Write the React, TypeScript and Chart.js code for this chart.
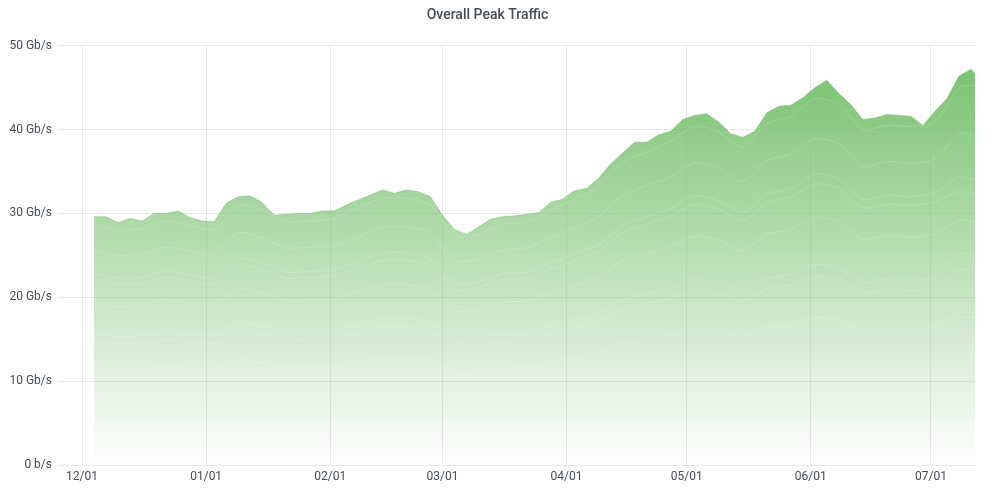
import React, { useEffect, useRef } from "react";
import { Chart, registerables } from "chart.js";

Chart.register(...registerables);

// Days counted from 12/01
const days = [
  3, 6, 9, 12, 15, 18, 21, 24, 27, 30, 33, 36, 39, 42, 45, 48, 51, 54, 57, 60,
  63, 66, 69, 72, 75, 78, 81, 84, 87, 90, 93, 96, 99, 102, 105, 108, 111, 114,
  117, 120, 123, 126, 129, 132, 135, 138, 141, 144, 147, 150, 153, 156, 159,
  162, 165, 168, 171, 174, 177, 180, 183, 186, 189, 192, 195, 198, 201, 204,
  207, 210, 213, 216, 219, 222, 223,
];

// Total (top of stack), Gb/s
const totalTraffic = [
  29.6, 29.6, 28.9, 29.4, 29.1, 30.0, 30.0, 30.3, 29.5, 29.1, 29.0, 31.2, 32.0,
  32.1, 31.3, 29.8, 29.9, 30.0, 30.0, 30.3, 30.3, 31.0, 31.6, 32.2, 32.8, 32.4,
  32.8, 32.6, 32.0, 29.8, 28.1, 27.5, 28.4, 29.3, 29.6, 29.7, 29.9, 30.1, 31.3,
  31.7, 32.7, 33.0, 34.2, 35.9, 37.2, 38.5, 38.5, 39.4, 39.8, 41.2, 41.7, 41.9,
  40.9, 39.5, 39.1, 39.8, 42.0, 42.8, 42.9, 43.8, 45.0, 45.9, 44.3, 43.0, 41.2,
  41.4, 41.8, 41.7, 41.6, 40.5, 42.2, 43.7, 46.4, 47.2, 46.7,
];

// Sampling of the inner stack boundaries
const layerDays = [
  3, 9, 15, 21, 27, 33, 39, 45, 51, 57, 63, 69, 75, 81, 87, 93, 99, 105, 111,
  117, 123, 129, 135, 141, 147, 153, 159, 165, 171, 177, 183, 189, 195, 201,
  207, 213, 219, 223,
];

const layerA = [
  28.7, 28.0, 28.2, 29.1, 28.6, 28.1, 31.0, 30.4, 29.0, 29.1, 29.4, 30.7, 31.8,
  31.8, 31.0, 27.3, 27.5, 28.7, 29.0, 30.4, 31.7, 33.2, 36.1, 37.3, 38.6, 40.4,
  39.7, 37.9, 40.7, 41.6, 43.7, 43.0, 40.0, 40.5, 40.4, 40.9, 45.0, 45.3,
];
const layerB = [
  25.6, 25.0, 25.2, 26.0, 25.5, 25.1, 27.7, 27.1, 25.9, 26.0, 26.2, 27.3, 28.4,
  28.4, 27.7, 24.3, 24.6, 25.6, 25.9, 27.1, 28.3, 29.6, 32.2, 33.3, 34.4, 36.1,
  35.4, 33.8, 36.3, 37.1, 38.9, 38.3, 35.6, 36.2, 36.0, 36.5, 39.5, 39.3,
];
const layerC = [
  22.8, 22.3, 22.4, 23.1, 22.7, 22.3, 24.6, 24.1, 23.0, 23.1, 23.3, 24.3, 25.3,
  25.3, 24.6, 21.6, 21.9, 22.8, 23.0, 24.1, 25.2, 26.3, 28.6, 29.6, 30.6, 32.1,
  31.5, 30.1, 32.3, 33.0, 34.7, 34.1, 31.7, 32.2, 32.0, 32.5, 34.3, 34.0,
];
const layerD = [
  22.1, 21.5, 21.7, 22.4, 22.0, 21.6, 23.8, 23.3, 22.3, 22.4, 22.6, 23.5, 24.4,
  24.4, 23.8, 20.9, 21.2, 22.1, 22.3, 23.3, 24.4, 25.5, 27.7, 28.7, 29.7, 31.1,
  30.5, 29.1, 31.3, 32.0, 33.5, 33.0, 30.7, 31.1, 31.0, 31.4, 32.6, 32.2,
];
const layerE = [
  19.4, 18.9, 19.1, 19.7, 19.3, 19.0, 21.0, 20.5, 19.6, 19.7, 19.8, 20.7, 21.5,
  21.5, 21.0, 18.4, 18.6, 19.4, 19.6, 20.5, 21.4, 22.4, 24.4, 25.2, 26.1, 27.3,
  26.8, 25.6, 27.5, 28.1, 29.5, 29.0, 27.0, 27.4, 27.2, 27.6, 29.2, 29.0,
];
const layerF = [
  15.7, 15.3, 15.4, 15.9, 15.6, 15.4, 17.0, 16.6, 15.8, 15.9, 16.1, 16.7, 17.4,
  17.4, 17.0, 14.9, 15.1, 15.7, 15.8, 16.6, 17.3, 18.1, 19.7, 20.4, 21.1, 22.1,
  21.7, 20.7, 22.3, 22.7, 23.9, 23.5, 21.8, 22.2, 22.0, 22.4, 25.1, 25.2,
];
const layerG = [
  14.8, 14.5, 14.6, 15.0, 14.8, 14.5, 16.0, 15.7, 15.0, 15.0, 15.2, 15.8, 16.4,
  16.4, 16.0, 14.1, 14.2, 14.8, 15.0, 15.7, 16.4, 17.1, 18.6, 19.3, 19.9, 20.9,
  20.5, 19.6, 21.0, 21.5, 22.5, 22.2, 20.6, 20.9, 20.8, 21.1, 23.2, 23.4,
];
const layerH = [
  11.5, 11.3, 11.3, 11.7, 11.5, 11.3, 12.5, 12.2, 11.7, 11.7, 11.8, 12.3, 12.8,
  12.8, 12.5, 11.0, 11.1, 11.5, 11.7, 12.2, 12.8, 13.3, 14.5, 15.0, 15.5, 16.3,
  16.0, 15.2, 16.4, 16.7, 17.6, 17.3, 16.1, 16.3, 16.2, 16.5, 18.1, 18.2,
];

const layers = [layerA, layerB, layerC, layerD, layerE, layerF, layerG, layerH];

const xTickDays = [0, 31, 62, 90, 121, 151, 182, 212];
const xTickLabels = ["12/01", "01/01", "02/01", "03/01", "04/01", "05/01", "06/01", "07/01"];
const yTickValues = [0, 10, 20, 30, 40, 50];
const yTickLabels = ["0 b/s", "10 Gb/s", "20 Gb/s", "30 Gb/s", "40 Gb/s", "50 Gb/s"];

const FONT = "Roboto";
const TEXT = "#464c54";
const GRID = "rgba(0,0,0,0.09)";

export default function App() {
  const ref = useRef<HTMLCanvasElement | null>(null);

  useEffect(() => {
    if (!ref.current) return;
    const lineSets = layers.map((arr) => ({
      data: arr.map((v, i) => ({ x: layerDays[i], y: v })),
      borderColor: "rgba(255,255,255,0.17)",
      borderWidth: 1,
      pointRadius: 0,
      fill: false,
      tension: 0.25,
      order: 1,
    }));
    const chart = new Chart(ref.current, {
      type: "line",
      data: {
        datasets: [
          ...lineSets,
          {
            data: totalTraffic.map((v, i) => ({ x: days[i], y: v })),
            borderColor: "rgba(115,191,105,0.5)",
            borderWidth: 1,
            pointRadius: 0,
            fill: "origin",
            tension: 0,
            order: 2,
            backgroundColor: (ctx: any) => {
              const area = ctx.chart.chartArea;
              if (!area) return "rgba(115,191,105,0.5)";
              const g = ctx.chart.ctx.createLinearGradient(0, area.top, 0, area.bottom);
              g.addColorStop(0, "rgba(115,191,105,1)");
              g.addColorStop(1, "rgba(115,191,105,0)");
              return g;
            },
          },
        ],
      },
      options: {
        responsive: false,
        animation: false,
        layout: { padding: { left: 0, right: 25, top: 0, bottom: 0 } },
        plugins: {
          legend: { display: false },
          tooltip: { enabled: false },
          title: {
            display: true,
            text: "Overall Peak Traffic",
            color: TEXT,
            font: { family: FONT, size: 14, weight: 500 as any },
            padding: { top: 7, bottom: 22 },
          },
        },
        scales: {
          x: {
            type: "linear",
            min: -4,
            max: 223,
            afterBuildTicks: (scale: any) => {
              scale.ticks = xTickDays.map((v) => ({ value: v }));
            },
            afterFit: (scale: any) => {
              scale.height = 35;
            },
            ticks: {
              color: TEXT,
              font: { family: FONT, size: 12 },
              padding: 5,
              maxRotation: 0,
              autoSkip: false,
              callback: (v: any) => {
                const i = xTickDays.indexOf(Number(v));
                return i >= 0 ? xTickLabels[i] : "";
              },
            },
            grid: { color: GRID, drawTicks: false, tickLength: 0 },
            border: { display: false },
          },
          y: {
            min: 0,
            max: 50,
            afterBuildTicks: (scale: any) => {
              scale.ticks = yTickValues.map((v) => ({ value: v }));
            },
            afterFit: (scale: any) => {
              scale.width = 66;
            },
            ticks: {
              color: TEXT,
              font: { family: FONT, size: 12 },
              padding: 6,
              callback: (v: any) => {
                const i = yTickValues.indexOf(Number(v));
                return i >= 0 ? yTickLabels[i] : "";
              },
            },
            grid: { color: GRID, drawTicks: true, tickLength: 8 },
            border: { display: false },
          },
        },
      },
    });
    return () => chart.destroy();
  }, []);

  return (
    <div style={{ position: "absolute", left: 0, top: 0, width: 1000, height: 500, background: "#fff" }}>
      <canvas ref={ref} width={1000} height={500} style={{ display: "block" }} />
    </div>
  );
}
